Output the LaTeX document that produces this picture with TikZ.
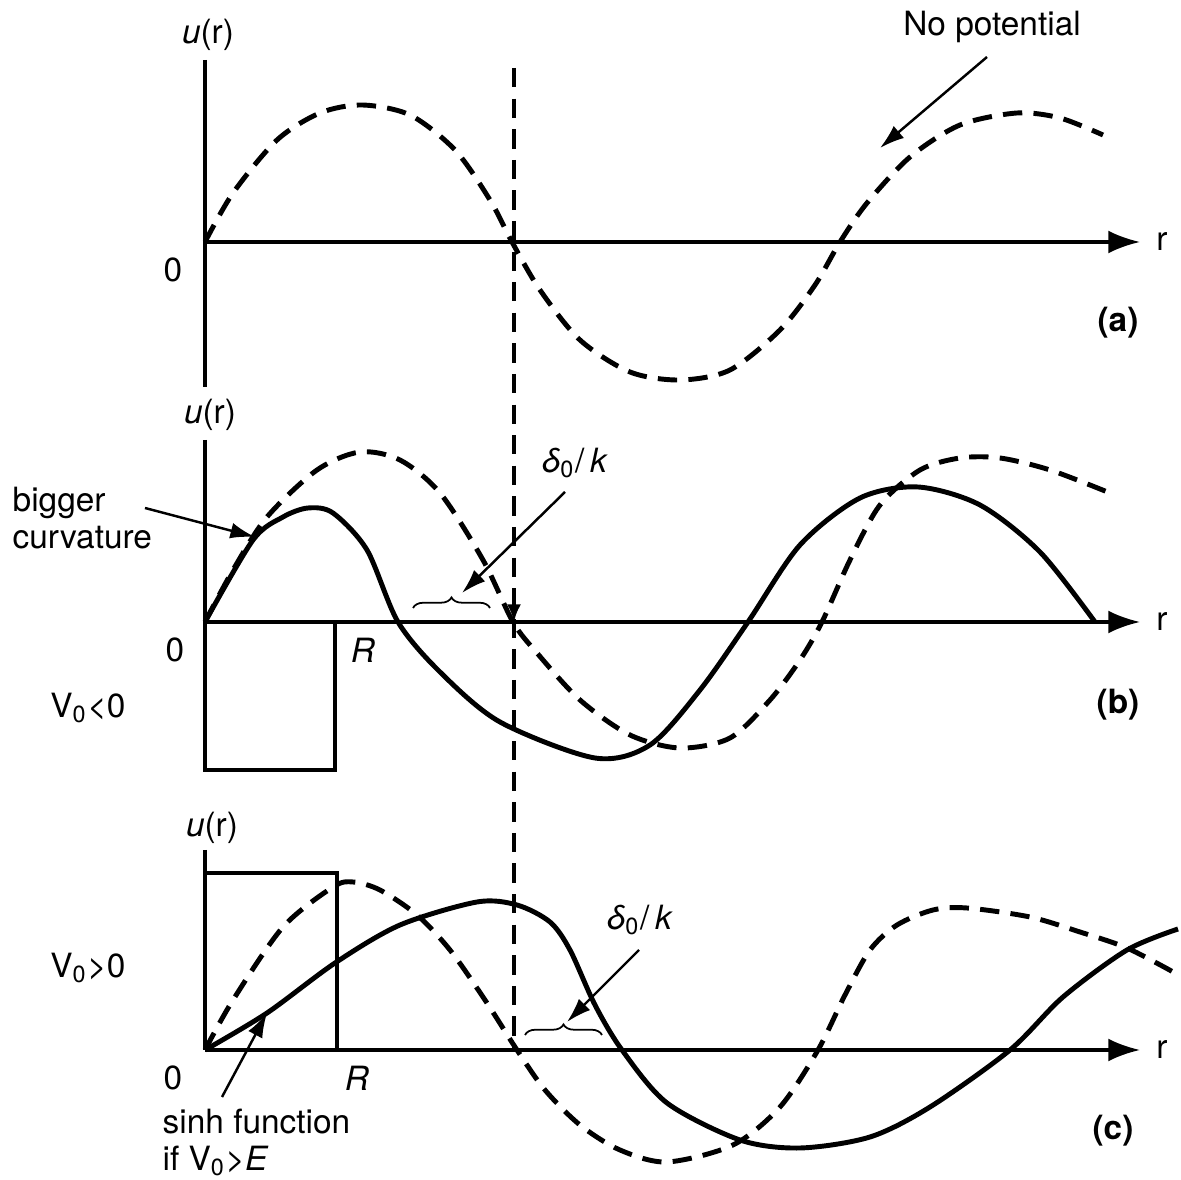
\documentclass[tikz,border=0pt]{standalone}
\usepackage{fontspec}
\setmainfont{TeX Gyre Heros}
\usetikzlibrary{arrows.meta, decorations.pathreplacing}

\begin{document}
\begin{tikzpicture}[x=0.01cm, y=-0.01cm, >={Latex[length=9pt,width=6.5pt]},
  axis/.style={line width=0.95pt},
  wave/.style={line width=1.4pt},
  free/.style={line width=1.4pt, dash pattern=on 5.5pt off 3.2pt},
  note/.style={line width=0.7pt, -{Latex[length=7pt,width=4.5pt]}},
  lbl/.style={font=\fontsize{9.5}{10.5}\selectfont, inner sep=0pt}]
  \useasboundingbox (0,0) rectangle (1181,1180);

  \coordinate (Oa) at (205,242);
  \coordinate (Ob) at (205,622);
  \coordinate (Oc) at (205,1050);

  % (a) no potential
  \draw[axis] (205,60) -- (205,387);
  \draw[axis,->] (Oa) -- (1140,242);
  \node[lbl] (ua) at (208,35) {\textit{u}(r)};
  \node[lbl] (ra) at (1162,242) {r};
  \node[lbl] (za) at (173,270) {0};
  \node[lbl] (tagA) at (1118,323) {\textbf{(a)}};
  \draw[free] plot[smooth] coordinates {(205,242) (233,193) (277,140) (320,113) (362,105)
    (410,115) (455,150) (490,200) (512,242) (540,290) (580,340) (630,372) (680,380)
    (730,370) (780,330) (815,285) (840,242) (867,203) (910,157) (960,125) (1017,113)
    (1060,118) (1103,135)};
  \node[lbl] (nopot) at (992,27) {No potential};
  \coordinate (np1) at (987,57);
  \coordinate (np2) at (880,148);
  \draw[note] (np1) -- (np2);

  % (b) attractive well
  \draw[axis] (205,440) -- (205,770) -- (335,770) -- (335,622);
  \draw[axis,->] (Ob) -- (1140,622);
  \node[lbl] (ub) at (210,415) {\textit{u}(r)};
  \node[lbl] (rb) at (1162,622) {r};
  \node[lbl] (zb) at (175,650) {0};
  \node[lbl] (Rb) at (363,650) {\textit{R}};
  \node[lbl] (Vb) at (88,708) {V\textsubscript{0}<0};
  \node[lbl] (tagB) at (1118,705) {\textbf{(b)}};
  \draw[free] plot[smooth] coordinates {(205,622) (233,570) (267,517) (317,470) (360,452)
    (400,460) (440,493) (483,560) (513,622) (537,653) (580,700) (630,735) (680,748)
    (730,738) (770,700) (800,660) (822,622) (850,560) (880,505) (920,470) (960,458)
    (1000,458) (1050,470) (1110,493)};
  \draw[wave] plot[smooth] coordinates {(205,622) (253,540) (283,517) (308,508) (333,513)
    (367,550) (398,622) (440,672) (500,722) (595,758) (650,745) (700,690)
    (748,622) (800,545) (860,498) (918,487) (980,505) (1040,552) (1095,622)};
  \node[lbl, align=left, anchor=west] (bigcurv) at (12,518) {bigger\\curvature};
  \coordinate (bc1) at (145,508);
  \coordinate (bc2) at (255,537);
  \draw[note] (bc1) -- (bc2);
  \node[lbl] (dkb) at (575,463) {\textit{δ}\textsubscript{0}/\,\textit{k}};
  \coordinate (dkb1) at (565,492);
  \coordinate (dkb2) at (462,593);
  \draw[note] (dkb1) -- (dkb2);
  \draw[line width=0.5pt, decorate, decoration={brace, amplitude=3pt}] (413,608) -- (490,608);

  % (c) repulsive barrier
  \draw[axis] (205,850) -- (Oc);
  \draw[axis] (205,873) -- (337,873) -- (337,1050);
  \draw[axis,->] (Oc) -- (1140,1050);
  \node[lbl] (uc) at (212,828) {\textit{u}(r)};
  \node[lbl] (rc) at (1162,1050) {r};
  \node[lbl] (zc) at (173,1078) {0};
  \node[lbl] (Rc) at (357,1078) {\textit{R}};
  \node[lbl] (Vc) at (88,968) {V\textsubscript{0}>0};
  \node[lbl] (tagC) at (1113,1131) {\textbf{(c)}};
  \draw[free] plot[smooth] coordinates {(205,1050) (233,1000) (283,927) (333,887) (353,882)
    (380,890) (417,915) (450,950) (485,1000) (517,1050) (545,1090) (580,1125) (620,1150)
    (667,1162) (733,1145) (780,1107) (818,1050) (845,995) (870,950) (897,925) (933,910)
    (967,908) (1030,917) (1080,932) (1127,948) (1175,973)};
  \draw[wave] plot[smooth] coordinates {(205,1050) (267,1013) (335,963) (400,925) (477,902) (517,905)
    (550,922) (570,950) (595,1005) (622,1050) (667,1103) (740,1140) (800,1148)
    (870,1137) (930,1107) (1010,1050) (1063,997) (1127,950) (1178,929)};
  \node[lbl] (dkc) at (640,920) {\textit{δ}\textsubscript{0}/\,\textit{k}};
  \coordinate (dkc1) at (639,950);
  \coordinate (dkc2) at (567,1022);
  \draw[note] (dkc1) -- (dkc2);
  \draw[line width=0.5pt, decorate, decoration={brace, amplitude=3pt}] (525,1035) -- (602,1035);
  \node[lbl, align=left, anchor=north west] (sinh) at (162,1108) {sinh function\\if V\textsubscript{0}>\textit{E}};
  \coordinate (sh1) at (222,1097);
  \coordinate (sh2) at (267,1013);
  \draw[note] (sh1) -- (sh2);

  % phase shift marker
  \draw[free] (514,68) -- (514,1050);
  \draw[line width=1.2pt, -{Latex[length=5pt,width=4pt]}] (514,602) -- (514,622);
\end{tikzpicture}
\end{document}
